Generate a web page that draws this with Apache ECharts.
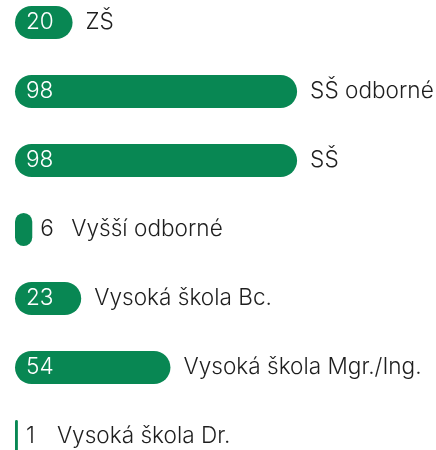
<!DOCTYPE html>
<html>
<head>
<meta charset="utf-8">
<script src="https://cdn.jsdelivr.net/npm/echarts@6/dist/echarts.min.js"></script>
<style>
  html, body { margin: 0; padding: 0; background: #fff; }
  #chart { width: 436px; height: 450px; }
</style>
</head>
<body>
<div id="chart"></div>
<script>
// kategorie vzdělání a počty
var categories = ['ZŠ', 'SŠ odborné', 'SŠ', 'Vyšší odborné', 'Vysoká škola Bc.', 'Vysoká škola Mgr./Ing.', 'Vysoká škola Dr.'];
var values = [20, 98, 98, 6, 23, 54, 1];

var green = '#088753';
var font = 'Inter, sans-serif';
var textColor = '#1e1e1e';
var fs = 22.6;
var minInside = 15; // menší hodnoty se píšou vedle sloupce

// průhledná kopie sloupců, jen kvůli popiskům
function ghost(label) {
    return {
        type: 'bar',
        data: values,
        barWidth: 33,
        barGap: '-100%',
        silent: true,
        itemStyle: { color: 'transparent' },
        label: label
    };
}

var chart = echarts.init(document.getElementById('chart'));
chart.setOption({
    backgroundColor: '#ffffff',
    animation: false,
    grid: {
        left: 15,
        top: -12,
        width: 403,
        height: 483,
        outerBoundsMode: 'none'
    },
    xAxis: {
        type: 'value',
        min: 0,
        max: 140,
        show: false
    },
    yAxis: {
        type: 'category',
        data: categories,
        inverse: true,
        show: false
    },
    series: [{
        type: 'bar',
        data: values,
        barWidth: 33,
        itemStyle: {
            color: green,
            borderRadius: 16.5
        },
        label: {
            show: true,
            position: 'right',
            distance: 13,
            fontFamily: font,
            fontWeight: 300,
            fontSize: fs,
            color: textColor,
            formatter: function (p) {
                return p.value < minInside ? '' : p.name;
            }
        }
    },
    // hodnota uvnitř sloupce
    ghost({
        show: true,
        position: 'insideLeft',
        distance: 11,
        fontFamily: font,
        fontWeight: 300,
        fontSize: fs,
        color: '#ffffff',
        formatter: function (p) {
            return p.value < minInside ? '' : String(p.value);
        }
    }),
    // malé hodnoty: číslo i název vedle sloupce
    ghost({
        show: true,
        position: 'right',
        distance: 8,
        fontFamily: font,
        fontWeight: 300,
        fontSize: fs,
        color: textColor,
        formatter: function (p) {
            return p.value < minInside ? '{v|' + p.value + '}' + p.name : '';
        },
        rich: {
            v: { fontFamily: font, fontWeight: 300, fontSize: fs, color: textColor, width: 31 }
        }
    })]
});
</script>
</body>
</html>
